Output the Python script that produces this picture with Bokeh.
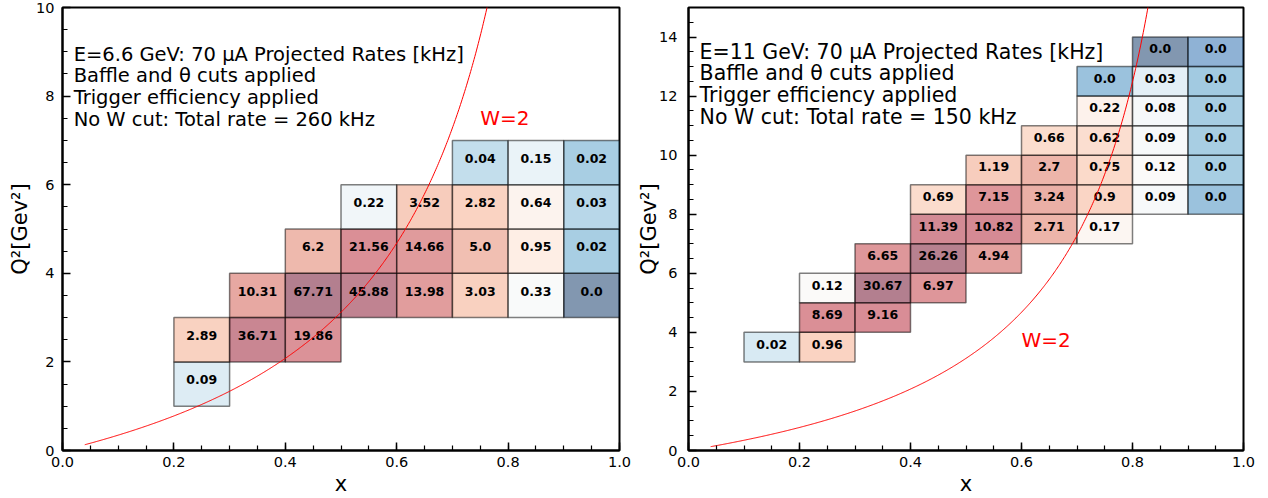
import numpy as np
from bokeh.plotting import figure
from bokeh.models import ColumnDataSource, LogColorMapper, FixedTicker, Range1d, PrintfTickFormatter
from bokeh.layouts import row
from bokeh.palettes import RdBu
from bokeh.embed import file_html
from bokeh.resources import INLINE
from bokeh.core.properties import value

# ---------------- data ----------------
# Left panel: E = 6.6 GeV  (bin lower edges in x and Q^2, rate in kHz)
l_x = [0.2,
       0.2, 0.3, 0.4,
       0.3, 0.4, 0.5, 0.6, 0.7, 0.8, 0.9,
       0.4, 0.5, 0.6, 0.7, 0.8, 0.9,
       0.5, 0.6, 0.7, 0.8, 0.9,
       0.7, 0.8, 0.9]
l_q2 = [1,
        2, 2, 2,
        3, 3, 3, 3, 3, 3, 3,
        4, 4, 4, 4, 4, 4,
        5, 5, 5, 5, 5,
        6, 6, 6]
l_rate = [0.09,
          2.89, 36.71, 19.86,
          10.31, 67.71, 45.88, 13.98, 3.03, 0.33, 0.002,
          6.2, 21.56, 14.66, 5.0, 0.95, 0.02,
          0.22, 3.52, 2.82, 0.64, 0.03,
          0.04, 0.15, 0.02]

# Right panel: E = 11 GeV
r_x = [0.1, 0.2,
       0.2, 0.3,
       0.2, 0.3, 0.4,
       0.3, 0.4, 0.5,
       0.4, 0.5, 0.6, 0.7,
       0.4, 0.5, 0.6, 0.7, 0.8, 0.9,
       0.5, 0.6, 0.7, 0.8, 0.9,
       0.6, 0.7, 0.8, 0.9,
       0.7, 0.8, 0.9,
       0.7, 0.8, 0.9,
       0.8, 0.9]
r_q2 = [3, 3,
        4, 4,
        5, 5, 5,
        6, 6, 6,
        7, 7, 7, 7,
        8, 8, 8, 8, 8, 8,
        9, 9, 9, 9, 9,
        10, 10, 10, 10,
        11, 11, 11,
        12, 12, 12,
        13, 13]
r_rate = [0.02, 0.96,
          8.69, 9.16,
          0.12, 30.67, 6.97,
          6.65, 26.26, 4.94,
          11.39, 10.82, 2.71, 0.17,
          0.69, 7.15, 3.24, 0.9, 0.09, 0.0027,
          1.19, 2.7, 0.75, 0.12, 0.0048,
          0.66, 0.62, 0.09, 0.0048,
          0.22, 0.08, 0.0045,
          0.0027, 0.03, 0.004,
          0.0004, 0.0012]

x_ticks = [0.0, 0.2, 0.4, 0.6, 0.8, 1.0]
l_y_ticks = [0, 2, 4, 6, 8, 10]
r_y_ticks = [0, 2, 4, 6, 8, 10, 12, 14]

l_lines = ["E=6.6 GeV: 70 \u03bcA Projected Rates [kHz]",
           "Baffle and \u03b8 cuts applied",
           "Trigger efficiency applied",
           "No W cut: Total rate = 260 kHz"]
r_lines = ["E=11 GeV: 70 \u03bcA Projected Rates [kHz]",
           "Baffle and \u03b8 cuts applied",
           "Trigger efficiency applied",
           "No W cut: Total rate = 150 kHz"]

W = 2.0
M = 0.938

# RdBu_r palette (blue for low, red for high), 256 steps
anchors = list(RdBu[11])
rgb = np.array([[int(h[i:i + 2], 16) for i in (1, 3, 5)] for h in anchors], float)
if rgb[0, 0] > rgb[0, 2]:  # ensure the low end is blue
    rgb = rgb[::-1]
pos = np.linspace(0, 1, len(anchors))
t = np.linspace(0, 1, 256)
pal = ["#%02x%02x%02x" % tuple(int(round(np.interp(tt, pos, rgb[:, c]))) for c in range(3)) for tt in t]

FONT = "DejaVu Sans"


def make_panel(xs, q2s, rates, ymax, yticks, lines, line_y, ann_size, wlab, width, bl, br, bt, ylab_standoff, ytick_standoff):
    p = figure(width=width, height=498, output_backend="svg", toolbar_location=None,
               x_range=Range1d(0, 1), y_range=Range1d(0, ymax),
               min_border_left=bl, min_border_right=br, min_border_top=bt, min_border_bottom=45)
    p.grid.visible = False
    p.background_fill_color = "white"
    p.border_fill_color = "white"
    p.outline_line_color = "black"
    p.outline_line_width = 2

    xs = np.array(xs, float)
    q2s = np.array(q2s, float)
    rates = np.array(rates, float)
    src = ColumnDataSource(dict(left=xs, right=xs + 0.1, bottom=q2s, top=q2s + 1,
                                cx=xs + 0.05, ty=q2s + 0.6, rate=rates,
                                lab=[str(round(v, 2)) for v in rates]))
    mapper = LogColorMapper(palette=pal, low=rates.min(), high=rates.max())
    p.quad(left="left", right="right", bottom="bottom", top="top", source=src,
           fill_color={"field": "rate", "transform": mapper}, fill_alpha=0.5,
           line_color="black", line_alpha=0.5, line_width=1.5)
    p.text(x="cx", y="ty", text="lab", source=src, text_align="center", text_baseline="middle",
           text_font=value(FONT), text_font_style="bold", text_font_size="12.5px", text_color="black")

    # W = 2 line
    xc = np.linspace(0.04, 0.95, 600)
    qc = (W ** 2 - M ** 2) * xc / (1 - xc)
    keep = qc <= ymax * 1.05
    p.line(xc[keep], qc[keep], line_color="red", line_width=1)
    p.text(x=[wlab[0]], y=[wlab[1]], text=["W=2"], text_color="red", text_font=value(FONT),
           text_font_size="20px", text_baseline="alphabetic", text_align="left")

    # annotation
    p.text(x=[0.02] * 4, y=line_y, text=lines, text_font=value(FONT), text_font_size=ann_size,
           text_baseline="alphabetic", text_align="left", text_color="black")

    # axes
    p.xaxis.ticker = FixedTicker(ticks=x_ticks, minor_ticks=list(np.round(np.arange(0, 1.0001, 0.05), 2)))
    p.xaxis.formatter = PrintfTickFormatter(format="%.1f")
    p.yaxis.ticker = FixedTicker(ticks=yticks, minor_ticks=list(np.arange(0, ymax + 0.001, 0.5)))
    for ax in (p.xaxis[0], p.yaxis[0]):
        ax.axis_line_width = 2
        ax.axis_line_color = "black"
        ax.major_tick_in = 8
        ax.major_tick_out = 0
        ax.minor_tick_in = 5
        ax.minor_tick_out = 0
        ax.major_tick_line_width = 1.5
        ax.minor_tick_line_width = 1.2
        ax.major_label_text_font = FONT
        ax.major_label_text_font_size = "14.5px"
        ax.major_label_text_color = "black"
        ax.axis_label_text_font = FONT
        ax.axis_label_text_font_size = "21px"
        ax.axis_label_text_font_style = "normal"
        ax.axis_label_text_color = "black"
    p.xaxis.axis_label = "x"
    p.xaxis.major_label_standoff = 6
    p.xaxis.axis_label_standoff = 2
    p.yaxis.axis_label = "Q\u00b2[Gev\u00b2]"
    p.yaxis.major_label_standoff = ytick_standoff
    p.yaxis.axis_label_standoff = ylab_standoff
    return p


left = make_panel(l_x, l_q2, l_rate, 10, l_y_ticks, l_lines, [8.95, 8.46, 7.97, 7.48], "19.5px",
                  (0.75, 7.5), 634, 62, 15, 7, 1, 8)
right = make_panel(r_x, r_q2, r_rate, 15, r_y_ticks, r_lines, [13.51, 12.78, 12.05, 11.3], "20.5px",
                   (0.6, 3.75), 634, 51, 25, 2, -5, 11)

layout = row(left, right)
open("out.html", "w").write(file_html(layout, INLINE))
